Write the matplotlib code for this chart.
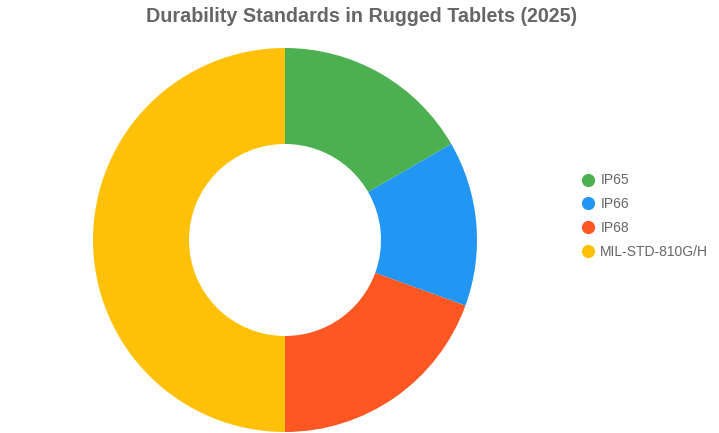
import matplotlib
matplotlib.use("Agg")
import matplotlib.pyplot as plt
from matplotlib.lines import Line2D

plt.rcParams['font.family'] = ['Liberation Sans', 'DejaVu Sans']

# data
labels = ["IP65", "IP66", "IP68", "MIL-STD-810G/H"]
values = [30, 25, 35, 90]
colors = ["#4CAF50", "#2196F3", "#FF5722", "#FFC107"]

fig = plt.figure(figsize=(7.19, 4.33), dpi=100)
fig.patch.set_facecolor("white")

# donut axes, pixel placement
W, H = 719, 433
ax = fig.add_axes([93 / W, 1 / H, 384 / W, 384 / H])
ax.pie(values, colors=colors, startangle=90, counterclock=False,
       radius=1, wedgeprops=dict(width=0.5, edgecolor="none"))
ax.set_xlim(-1, 1)
ax.set_ylim(-1, 1)
ax.set_aspect("equal")
ax.axis("off")

fig.text(362 / W, 1 - 17 / H, "Durability Standards in Rugged Tablets (2025)",
         ha="center", va="center", fontsize=14.2, fontweight="bold", color="#666666")

handles = [Line2D([0], [0], marker="o", linestyle="none", markersize=8.5,
                  markerfacecolor=c, markeredgecolor=c) for c in colors]
leg = fig.legend(handles, labels, loc="center left",
                 bbox_to_anchor=(567 / W, 1 - 216 / H), frameon=False,
                 fontsize=10, labelcolor="#666666", handletextpad=0.3,
                 labelspacing=0.7, handlelength=1.2)

fig.savefig("out.png", dpi=100)
